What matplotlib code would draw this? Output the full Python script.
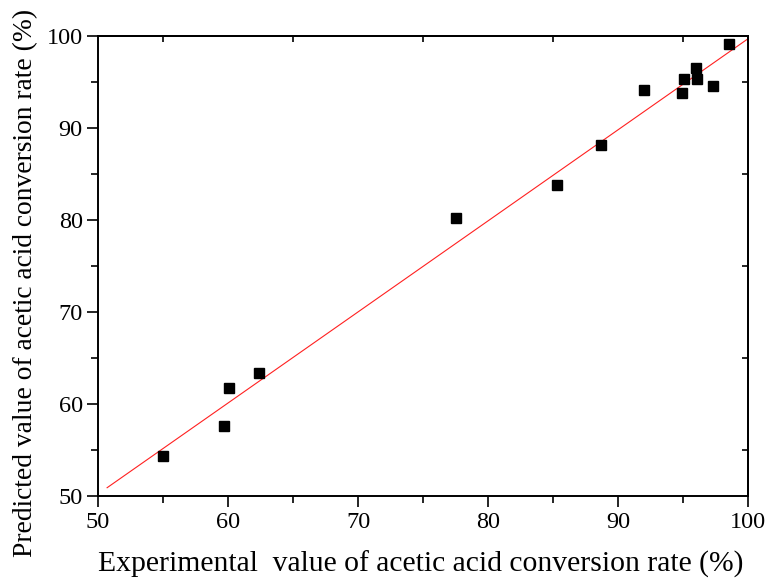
import numpy as np
import matplotlib
matplotlib.use("Agg")
import matplotlib.pyplot as plt
from matplotlib.ticker import MultipleLocator, NullLocator

experimental = [55.0, 59.7, 60.1, 62.4, 77.5, 85.3, 88.7, 92.0, 94.9, 95.1, 96.0, 96.1, 97.3, 98.5]
predicted = [54.4, 57.6, 61.7, 63.4, 80.2, 83.8, 88.2, 94.1, 93.8, 95.3, 96.5, 95.3, 94.6, 99.1]
fit_x = [50.7, 100.0]
fit_y = [50.9, 99.7]

xlabel = "Experimental  value of acetic acid conversion rate (%)"
ylabel = "Predicted value of acetic acid conversion rate (%)"

plt.rcParams['font.family'] = ['Liberation Serif', 'DejaVu Serif']

fig = plt.figure(figsize=(7.68, 5.83), dpi=100)
ax = fig.add_axes([98/768, 1-496/583, (748-98)/768, (496-36)/583])

ax.plot(fit_x, fit_y, color='#ff2020', linewidth=0.8, zorder=2)
ax.plot(experimental, predicted, linestyle='none', marker='s', markersize=7.5,
        color='black', zorder=3)

ax.set_xlim(50, 100)
ax.set_ylim(50, 100)
ax.xaxis.set_major_locator(MultipleLocator(10))
ax.xaxis.set_minor_locator(MultipleLocator(5))
ax.yaxis.set_major_locator(MultipleLocator(10))
ax.yaxis.set_minor_locator(MultipleLocator(5))
ax.tick_params(which='major', direction='out', length=8, width=1.2, labelsize=17.5)
ax.tick_params(axis='y', which='major', pad=3)
ax.tick_params(axis='x', which='major', pad=3.5)
ax.tick_params(which='minor', direction='out', length=5, width=1.2)
ax.tick_params(top=False, right=False)
for s in ax.spines.values():
    s.set_linewidth(1.4)

secx = ax.secondary_xaxis('top')
secx.xaxis.set_major_locator(NullLocator())
secx.set_xticks([55, 65, 75, 85, 95], minor=True)
secx.tick_params(which='minor', direction='in', length=4, width=1.2)
secx.spines['top'].set_linewidth(1.4)

secy = ax.secondary_yaxis('right')
secy.yaxis.set_major_locator(NullLocator())
secy.set_yticks([55, 65, 75, 85, 95], minor=True)
secy.tick_params(which='minor', direction='in', length=4, width=1.2)
secy.spines['right'].set_linewidth(1.4)

fig.text(421/768, 1-572/583, xlabel, fontsize=21.3, ha='center', va='baseline')
fig.text(32/768, 1-283/583, ylabel, fontsize=19.8, rotation=90,
         rotation_mode='anchor', ha='center', va='baseline')

fig.savefig("out.png", dpi=100)
